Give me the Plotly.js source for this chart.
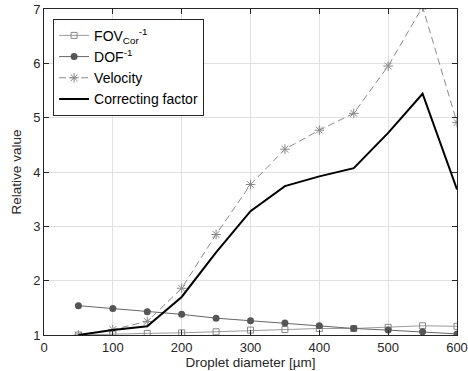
<!DOCTYPE html>
<html>
<head>
<meta charset="utf-8">
<script src="https://cdn.plot.ly/plotly-3.0.1.min.js"></script>
<style>html,body{margin:0;padding:0;background:#fff;}#chart{width:468px;height:371px;}</style>
</head>
<body>
<div id="chart"></div>
<script>
const diameters = [50, 100, 150, 200, 250, 300, 350, 400, 450, 500, 550, 600];
const fovCorInv = [1.00, 1.02, 1.03, 1.04, 1.06, 1.09, 1.10, 1.12, 1.12, 1.14, 1.17, 1.16];
const dofInv = [1.54, 1.49, 1.43, 1.38, 1.31, 1.26, 1.22, 1.17, 1.12, 1.09, 1.06, 1.02];
const velocity = [1.00, 1.10, 1.25, 1.86, 2.85, 3.77, 4.42, 4.77, 5.08, 5.95, 7.04, 4.91];
const correcting = [1.00, 1.09, 1.16, 1.70, 2.52, 3.28, 3.74, 3.92, 4.07, 4.72, 5.44, 3.68];
const xTicks = [0, 100, 200, 300, 400, 500, 600];
const yTicks = [1, 2, 3, 4, 5, 6, 7];

const traces = [
  {x: diameters, y: fovCorInv, name: 'FOV<sub>Cor</sub><sup>-1</sup>', mode: 'lines+markers',
   line: {color: '#9a9a9a', width: 1}, marker: {symbol: 'square-open', size: 6, color: '#888888', line: {width: 1}}},
  {x: diameters, y: dofInv, name: 'DOF<sup>-1</sup>', mode: 'lines+markers',
   line: {color: '#666666', width: 1}, marker: {symbol: 'circle', size: 7, color: '#555555'}},
  {x: diameters, y: velocity, name: 'Velocity', mode: 'lines+markers',
   line: {color: '#8a8a8a', width: 1, dash: '7px,4px'}, marker: {symbol: 'asterisk-open', size: 8, color: '#888888', line: {color: '#888888', width: 1}}},
  {x: diameters, y: correcting, name: 'Correcting factor', mode: 'lines',
   line: {color: '#000000', width: 2}}
];

const axisCommon = {
  showline: true, linecolor: '#262626', linewidth: 1, mirror: 'ticks',
  ticks: 'inside', ticklen: 5, tickcolor: '#262626',
  showgrid: true, gridcolor: '#e0e0e0', gridwidth: 1, zeroline: false,
  tickfont: {family: 'Liberation Sans, Arial, sans-serif', size: 13, color: '#262626'}
};

const layout = {
  width: 468, height: 371,
  margin: {l: 44, r: 11, t: 9, b: 36},
  paper_bgcolor: '#ffffff', plot_bgcolor: '#ffffff',
  showlegend: true,
  font: {family: 'Liberation Sans, Arial, sans-serif', color: '#262626'},
  xaxis: Object.assign({}, axisCommon, {
    range: [0, 600], tickvals: xTicks, ticktext: xTicks.map(String),
    title: {text: 'Droplet diameter [µm]', font: {size: 13.5, color: '#262626'}, standoff: 3}
  }),
  yaxis: Object.assign({}, axisCommon, {
    range: [1, 7], tickvals: yTicks, ticktext: yTicks.map(String),
    title: {text: 'Relative value', font: {size: 13.5, color: '#262626'}, standoff: 8}
  }),
  legend: {
    x: 0.022, y: 0.97, xanchor: 'left', yanchor: 'top',
    bgcolor: '#ffffff', bordercolor: '#262626', borderwidth: 1,
    font: {size: 14, color: '#000000'}, tracegroupgap: 0, itemwidth: 30
  }
};

Plotly.newPlot('chart', traces, layout, {displayModeBar: false, staticPlot: true});
</script>
</body>
</html>
